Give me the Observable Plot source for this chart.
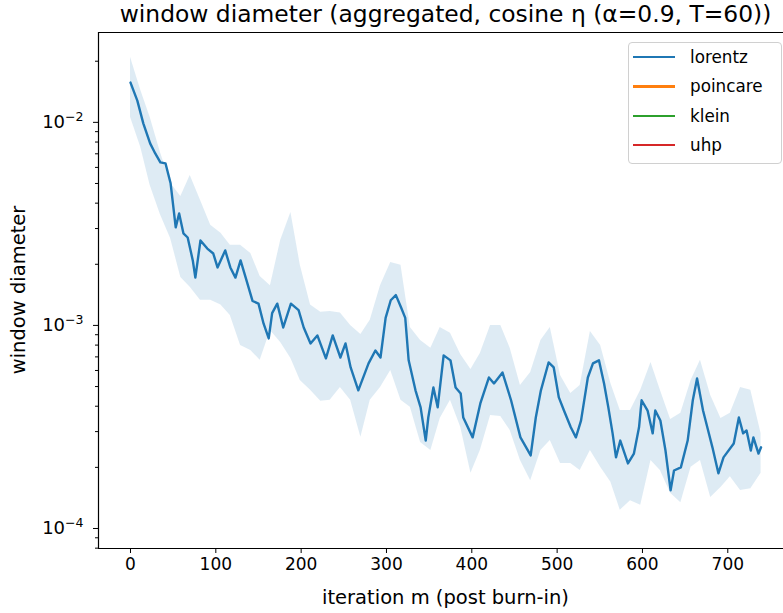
<!DOCTYPE html>
<html><head><meta charset="utf-8">
<script src="https://cdn.jsdelivr.net/npm/d3@7"></script>
<script src="https://cdn.jsdelivr.net/npm/@observablehq/plot@0.6"></script>
<style>
body{margin:0;background:#fff;overflow:hidden;font-family:"DejaVu Sans",sans-serif;}
#wrap{position:relative;width:783px;height:613px;}
#title{position:absolute;left:0;top:1px;width:891px;text-align:center;font-size:23.4px;line-height:26px;color:#000;white-space:nowrap;}
#xlabel{position:absolute;left:0;top:586px;width:891px;text-align:center;font-size:19.5px;line-height:24px;color:#000;white-space:nowrap;}
#ylabel{position:absolute;left:19px;top:290px;transform:translate(-50%,-50%) rotate(-90deg);font-size:19.5px;line-height:24px;white-space:nowrap;color:#000;}
#legend{position:absolute;left:628px;top:42px;width:154px;height:122px;box-sizing:border-box;border:1px solid #d0d0d0;border-radius:4px;background:rgba(255,255,255,0.8);}
.item{position:absolute;left:4px;height:20px;font-size:16.8px;line-height:20px;color:#000;}
.sw{position:absolute;left:0;top:9px;width:42px;height:2.4px;}
.lab{position:absolute;left:57px;top:0;white-space:nowrap;}
</style></head>
<body><div id="wrap"><div id="chart"></div>
<div id="title">window diameter (aggregated, cosine η (α=0.9, T=60))</div>
<div id="xlabel">iteration m (post burn-in)</div>
<div id="ylabel">window diameter</div>
<div id="legend"></div>
</div>
<script>
// mean curve (lorentz)
const meanM = [0,8,15,23,29,35,41,47,53,57,62,67,73,76,82,90,97,102,111,117,123,129,135,143,150,156,162,166,172,179,188,197,203,211,219,229,237,246,252,258,267,279,287,293,299,305,311,317,322,326,334,340,346,349,355,360,367,375,381,387,390,401,410,420,426,436,446,457,469,475,481,490,496,502,508,516,522,528,536,542,549,555,560,565,569,574,583,590,596,599,606,612,615,621,627,633,637,645,653,659,664,671,676,682,689,695,707,713,718,722,727,730,736,739];
const meanV = [0.0157,0.0128,0.00989,0.00788,0.00703,0.00635,0.00628,0.00501,0.00304,0.00356,0.00284,0.00271,0.00209,0.00172,0.00262,0.00239,0.00226,0.00193,0.00234,0.00193,0.00172,0.00209,0.00172,0.00132,0.00128,0.00102,0.000863,0.00115,0.00128,0.000977,0.00128,0.00119,0.000977,0.000815,0.000893,0.000688,0.000893,0.000695,0.000815,0.000621,0.000479,0.00065,0.000753,0.000695,0.00109,0.00133,0.00141,0.00123,0.00109,0.000673,0.000479,0.000395,0.000271,0.000352,0.000495,0.000395,0.000712,0.000673,0.000495,0.000462,0.000352,0.000281,0.000413,0.000554,0.000518,0.000586,0.000428,0.000281,0.000229,0.000352,0.000479,0.000657,0.000621,0.000442,0.000381,0.000315,0.000281,0.00034,0.000554,0.00065,0.000673,0.000518,0.000395,0.000294,0.000224,0.000271,0.000209,0.000234,0.000315,0.000428,0.000381,0.000294,0.000381,0.00034,0.000242,0.000154,0.000193,0.0002,0.000271,0.000428,0.000548,0.000381,0.000315,0.000251,0.000187,0.000224,0.000262,0.000352,0.000294,0.000304,0.000242,0.000281,0.000234,0.000251];
// spread band
const bandM = [0,12,23,35,47,59,70,82,94,106,117,129,141,152,164,176,188,199,211,223,234,246,258,270,281,293,305,317,328,340,352,363,375,387,399,410,422,434,445,457,469,481,492,504,516,527,539,551,563,574,586,598,610,621,633,645,657,668,680,692,703,715,727,739];
const bandHi = [0.0209,0.0144,0.0106,0.00712,0.00501,0.00432,0.00548,0.00413,0.00311,0.00284,0.00248,0.00248,0.00226,0.00174,0.00157,0.00262,0.0036,0.00198,0.00126,0.00116,0.00117,0.00115,0.001,0.000903,0.00106,0.00157,0.00204,0.00198,0.000977,0.000844,0.000771,0.000977,0.000914,0.000719,0.000607,0.000728,0.001,0.001,0.000771,0.000506,0.000586,0.000844,0.000977,0.000567,0.000462,0.000506,0.000934,0.000797,0.000518,0.000381,0.000381,0.000479,0.000657,0.000479,0.000344,0.000369,0.000536,0.000673,0.000452,0.000348,0.000369,0.000495,0.000479,0.000294];
const bandLo = [0.0106,0.00753,0.0049,0.00352,0.00268,0.00172,0.00154,0.00133,0.00133,0.00126,0.00112,0.000797,0.000753,0.000673,0.000945,0.000824,0.000688,0.000536,0.000479,0.000423,0.000428,0.000495,0.000428,0.000281,0.000428,0.000495,0.0006,0.000428,0.000395,0.000265,0.000242,0.000348,0.000428,0.000315,0.000187,0.000242,0.00036,0.000356,0.000304,0.000216,0.000172,0.000242,0.000271,0.000209,0.000209,0.000193,0.000242,0.0002,0.000169,0.000123,0.000137,0.00013,0.000216,0.000193,0.000149,0.000134,0.0002,0.000216,0.000142,0.000159,0.00018,0.000154,0.000157,0.000187];
const xTicks = [0,100,200,300,400,500,600,700];
const yMajor = [1e-4,1e-3,1e-2];
const yMinor = [8e-5,9e-5,2e-4,3e-4,4e-4,5e-4,6e-4,7e-4,8e-4,9e-4,2e-3,3e-3,4e-3,5e-3,6e-3,7e-3,8e-3,9e-3,2e-2];
const series = ["lorentz","poincare","klein","uhp"];
const colors = ["#1f77b4","#ff7f0e","#2ca02c","#d62728"];

const mean = meanM.map((m,i)=>({m, v: meanV[i]}));
const band = bandM.map((m,i)=>({m, lo: bandLo[i], hi: bandHi[i]}));
const xDom = [-37.5, 765.3];
const yDom = [7.97e-5, 0.0277];
const fmtPow = d => "10|\u2212" + String(-Math.round(Math.log10(d)));

const chart = Plot.plot({
  width: 783, height: 613,
  marginLeft: 98, marginRight: 0, marginTop: 32, marginBottom: 65,
  style: {fontFamily: "DejaVu Sans", fontSize: "17px", color: "#000", background: "white"},
  x: {domain: xDom},
  y: {type: "log", domain: yDom},
  marks: [
    Plot.areaY(band, {x: "m", y1: "lo", y2: "hi", fill: "#1f77b4", fillOpacity: 0.15}),
    Plot.lineY(mean, {x: "m", y: "v", stroke: "#1f77b4", strokeWidth: 2.4}),
    Plot.ruleX([xDom[0]], {stroke: "#000", strokeWidth: 1.2}),
    Plot.ruleY([yDom[0], yDom[1]], {stroke: "#000", strokeWidth: 1.2}),
    Plot.axisX({ticks: xTicks, tickSize: 5, tickPadding: 4, tickFormat: d => String(d), label: null, stroke: "#000", fill: "#000", fontSize: 17}),
    Plot.axisY({ticks: yMajor, tickSize: 5, tickPadding: 10, tickFormat: fmtPow, label: null, stroke: "#000", fill: "#000", fontSize: 18}),
    Plot.axisY({ticks: yMinor, tickSize: 3, tickFormat: () => "", label: null, stroke: "#000"})
  ]
});
document.getElementById("chart").appendChild(chart);

// render the y tick labels as 10 with a raised exponent
const NS = "http://www.w3.org/2000/svg";
chart.querySelectorAll("text").forEach(t => {
  const s = t.textContent;
  if (!s.includes("|")) return;
  const [b, e] = s.split("|");
  t.textContent = "";
  const t1 = document.createElementNS(NS, "tspan");
  t1.textContent = b;
  const t2 = document.createElementNS(NS, "tspan");
  t2.setAttribute("dy", "-7");
  t2.setAttribute("font-size", "12.5");
  t2.textContent = e;
  t.appendChild(t1); t.appendChild(t2);
});

const leg = document.getElementById("legend");
series.forEach((s,i)=>{
  const it = document.createElement("div");
  it.className = "item";
  it.style.top = (4 + i*29.3) + "px";
  it.innerHTML = `<div class="sw" style="background:${colors[i]}"></div><div class="lab">${s}</div>`;
  leg.appendChild(it);
});
</script>
</body></html>
